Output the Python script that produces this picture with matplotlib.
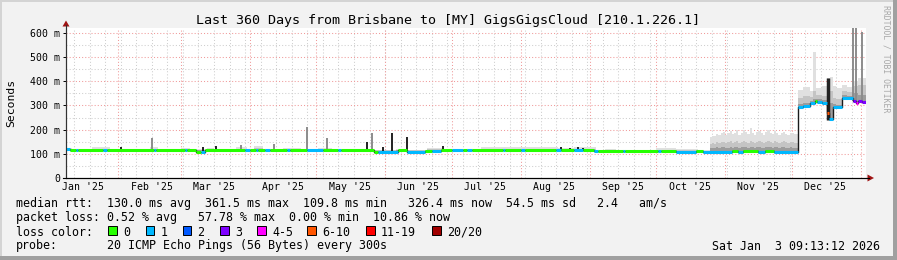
import matplotlib
matplotlib.use("Agg")
import matplotlib.pyplot as plt
import matplotlib.dates as mdates
from matplotlib.patches import Rectangle, Polygon
from matplotlib.lines import Line2D
import numpy as np
from datetime import datetime, timedelta

plt.rcParams['font.family'] = ['DejaVu Sans Mono']

END = datetime(2026, 1, 3, 9, 13, 12)
START = END - timedelta(days=360)

TITLE = "Last 360 Days from Brisbane to [MY] GigsGigsCloud [210.1.226.1]"

LOSS_LABELS = ["0", "1", "2", "3", "4-5", "6-10", "11-19", "20/20"]
LOSS_COLORS = ["#26ff00", "#00b8ff", "#0059ff", "#7e00ff",
               "#ff00ff", "#ff5500", "#ff0000", "#a10000"]

# median rtt (ms) as a step series: segment start, value, loss class
med_dates = ["2025-01-08", "2025-01-10", "2025-01-13", "2025-01-14", "2025-01-25",
             "2025-01-27", "2025-02-17", "2025-02-18", "2025-03-03", "2025-03-04",
             "2025-03-08", "2025-03-10", "2025-03-12", "2025-03-30", "2025-04-01",
             "2025-04-04", "2025-04-05", "2025-04-08", "2025-04-10", "2025-04-18",
             "2025-04-19", "2025-04-27", "2025-05-04", "2025-05-11", "2025-05-12",
             "2025-05-27", "2025-05-29", "2025-06-07", "2025-06-11", "2025-06-19",
             "2025-06-22", "2025-06-26", "2025-07-01", "2025-07-06", "2025-07-08",
             "2025-07-10", "2025-07-24", "2025-07-25", "2025-08-01", "2025-08-03",
             "2025-08-17", "2025-08-19", "2025-08-25", "2025-08-29", "2025-09-03",
             "2025-09-05", "2025-09-16", "2025-09-17", "2025-10-02", "2025-10-03",
             "2025-10-10", "2025-10-19", "2025-10-22", "2025-11-04", "2025-11-07",
             "2025-11-09", "2025-11-16", "2025-11-19", "2025-11-23", "2025-12-03 18:00",
             "2025-12-06", "2025-12-09 06:00", "2025-12-11 12:00", "2025-12-12 12:00",
             "2025-12-14 10:00", "2025-12-16 18:00", "2025-12-17 18:00", "2025-12-19 12:00",
             "2025-12-23 18:00", "2025-12-28 12:00", "2025-12-30", "2025-12-31",
             "2026-01-01 12:00"]
med_ms = [121, 115, 115, 115, 114,
          115, 115, 115, 115, 115,
          108, 108, 115, 115, 115,
          115, 115, 114, 115, 115,
          115, 115, 115, 115, 115,
          108, 109, 114, 109, 110,
          110, 115, 115, 115, 115,
          115, 115, 115, 114, 115,
          115, 115, 114, 115, 110,
          110, 110, 110, 110, 110,
          109, 110, 109, 110, 109,
          110, 109, 110, 108, 295,
          297, 310, 318, 316,
          310, 268, 245, 294,
          331, 318, 312, 320,
          316]
med_loss = [1, 0, 1, 0, 1,
             0, 1, 0, 1, 0,
             0, 1, 0, 1, 0,
             1, 0, 1, 0, 1,
             0, 1, 0, 1, 0,
             0, 1, 0, 1, 0,
             1, 0, 1, 0, 1,
             0, 1, 0, 1, 0,
             1, 0, 1, 0, 1,
             0, 1, 0, 1, 0,
             1, 0, 1, 0, 1,
             0, 1, 0, 1, 1,
             1, 1, 0, 1,
             1, 5, 1, 1,
             1, 3, 4, 3,
             3]

# smoke (ms): top of light, mid and dark bands, before the busy period
early_dates = ["2025-01-08", "2025-01-11", "2025-01-20", "2025-01-28", "2025-02-08",
               "2025-02-15", "2025-02-19", "2025-03-01", "2025-03-05", "2025-03-13",
               "2025-03-16", "2025-03-26", "2025-03-31", "2025-04-03", "2025-04-07",
               "2025-04-16", "2025-04-24", "2025-05-02", "2025-05-08", "2025-05-20",
               "2025-05-27", "2025-06-06", "2025-06-11", "2025-06-20", "2025-06-27",
               "2025-07-07", "2025-07-14", "2025-07-24", "2025-08-01", "2025-08-10",
               "2025-08-18", "2025-08-25", "2025-09-04", "2025-09-08", "2025-09-13",
               "2025-10-01", "2025-10-10", "2025-10-20"]
early_light = [126, 118, 127, 118, 121, 127, 118, 123, 118, 126,
               118, 127, 119, 134, 119, 122, 118, 124, 118, 121,
               117, 121, 117, 124, 118, 120, 127, 130, 127, 129,
               126, 128, 116, 121, 115, 122, 119, 116]
early_mid = [120, 116, 121, 116, 117, 120, 116, 118, 116, 119,
             116, 121, 116, 123, 116, 117, 116, 118, 116, 117,
             114, 117, 114, 118, 116, 117, 120, 121, 120, 121,
             120, 121, 113, 115, 112, 116, 114, 112]
early_dark = [117, 115, 116, 115, 115, 116, 115, 116, 115, 116,
              115, 116, 115, 117, 115, 115, 115, 116, 115, 115,
              110, 115, 110, 116, 115, 115, 116, 117, 116, 117,
              116, 117, 110, 112, 110, 112, 111, 110]

# daily smoke from 25 Oct to 2 Dec
nov_start = datetime(2025, 10, 25)
nov_light = [168, 175, 172, 182, 178, 186, 190, 176, 184, 195,
             180, 188, 198, 176, 185, 200, 190, 182, 205, 188,
             178, 192, 196, 184, 176, 190, 200, 186, 180, 194,
             188, 178, 185, 192, 182, 176, 188, 184, 180]
nov_mid = [140, 145, 142, 148, 146, 150, 148, 144, 147, 152,
           146, 149, 152, 143, 148, 153, 150, 146, 154, 149,
           145, 150, 152, 147, 144, 150, 153, 148, 146, 151,
           149, 145, 148, 151, 147, 144, 149, 147, 146]
nov_dark = [124, 126, 125, 127, 126, 128, 127, 125, 126, 129,
            126, 127, 129, 125, 127, 130, 128, 126, 130, 127,
            125, 128, 129, 126, 125, 128, 130, 127, 126, 128,
            127, 125, 127, 128, 126, 125, 127, 126, 126]

# smoke after the jump
dec_dates = ["2025-12-03 18:00", "2025-12-06", "2025-12-09 06:00", "2025-12-10 12:00",
             "2025-12-12", "2025-12-14 10:00", "2025-12-16 18:00", "2025-12-18",
             "2025-12-19 12:00", "2025-12-21", "2025-12-23 18:00", "2025-12-26",
             "2025-12-28 12:00", "2025-12-31"]
dec_light = [365, 376, 360, 521, 370, 380, 413, 418, 380, 372, 385, 378, 400, 413]
dec_mid = [330, 338, 335, 360, 345, 340, 380, 360, 330, 325, 360, 355, 380, 385]
dec_dark = [305, 310, 318, 325, 328, 322, 330, 310, 305, 302, 342, 340, 350, 345]

# isolated spikes (ms at top) and whether they are dark
spike_dates = ["2025-02-02", "2025-02-16", "2025-03-11", "2025-03-17", "2025-03-28",
               "2025-04-12", "2025-04-27", "2025-05-06", "2025-05-24", "2025-05-26",
               "2025-05-31", "2025-06-04", "2025-06-11", "2025-06-27", "2025-08-19",
               "2025-08-23", "2025-08-27", "2025-08-29", "2025-12-28 16:00",
               "2025-12-29 20:00", "2026-01-01 12:00"]
spike_top = [128, 165, 128, 131, 136,
             140, 211, 165, 150, 186,
             130, 186, 170, 132, 128,
             126, 130, 126, 620,
             620, 605]
spike_dark = [1, 0, 1, 1, 0,
              0, 0, 0, 1, 0,
              1, 1, 1, 1, 1,
              1, 1, 1, 0,
              0, 0]

rtt_stats = [130.0, 361.5, 109.8, 326.4, 54.5, 2.4]
loss_stats = [0.52, 57.78, 0.00, 10.86]
PROBE = "20 ICMP Echo Pings (56 Bytes) every 300s"
STAMP = "Sat Jan  3 09:13:12 2026"

W, H = 897, 260


def fx(px):
    return px / W


def fy(py):
    return 1 - py / H


def d(s):
    return datetime.fromisoformat(s)


fig = plt.figure(figsize=(W / 100, H / 100), dpi=100, facecolor="#f2f2f2")

# 3d-ish frame
fig.add_artist(Rectangle((0, fy(2)), 1, fy(0) - fy(2), transform=fig.transFigure,
                         color="#d4d4d4", lw=0))
fig.add_artist(Rectangle((0, 0), fx(2), 1, transform=fig.transFigure,
                         color="#d4d4d4", lw=0))
fig.add_artist(Rectangle((fx(893), 0), fx(4), 1, transform=fig.transFigure,
                         color="#a0a0a0", lw=0))
fig.add_artist(Rectangle((0, 0), 1, fy(256), transform=fig.transFigure,
                         color="#a0a0a0", lw=0))

ax = fig.add_axes([fx(66), fy(178), fx(866) - fx(66), fy(28) - fy(178)])
ax.set_facecolor("white")
ax.set_xlim(START, END)
ax.set_ylim(0, 620)

# grid
dots = (0, (1, 2))
sunday = datetime(2025, 1, 12)
while sunday < END:
    ax.axvline(sunday, color="#cfcfcf", lw=0.75, ls=dots, zorder=0)
    sunday += timedelta(days=7)
for v in range(50, 620, 100):
    ax.axhline(v, color="#cfcfcf", lw=0.75, ls=dots, zorder=0)
month_starts = [datetime(2025, m, 1) for m in range(2, 13)] + [datetime(2026, 1, 1)]
for t in month_starts:
    ax.axvline(t, color="#f09a9a", lw=0.75, ls=dots, zorder=0.5)
for v in range(100, 620, 100):
    ax.axhline(v, color="#f09a9a", lw=0.75, ls=dots, zorder=0.5)

# median lookup
med_t = mdates.date2num([d(s) for s in med_dates])


def med_at(t):
    i = np.searchsorted(med_t, mdates.date2num(t), side="right") - 1
    return med_ms[max(i, 0)]


# smoke bands
nov_dates = [nov_start + timedelta(days=i) for i in range(len(nov_light))]
smoke_t = [d(s) for s in early_dates] + nov_dates + [d(s) for s in dec_dates]
smoke_light = early_light + nov_light + dec_light
smoke_mid = early_mid + nov_mid + dec_mid
smoke_dark = early_dark + nov_dark + dec_dark

sx = smoke_t + [END]
low = [med_at(t) - 3 for t in smoke_t]
low = low + [low[-1]]
for band, col in [(smoke_light, "#e0e0e0"), (smoke_mid, "#c4c4c4"), (smoke_dark, "#9c9c9c")]:
    ax.fill_between(sx, low, band + [band[-1]], step="post",
                    color=col, lw=0, zorder=1)

# spikes
for s, top, dark in zip(spike_dates, spike_top, spike_dark):
    t = d(s)
    ax.vlines(t, med_at(t), top, color="#222222" if dark else "#8c8c8c",
              lw=1.4, zorder=2)
ax.vlines(d("2025-12-17 06:00"), 240, 413, color="#222222", lw=2.5, zorder=2)

# median line
mx = [d(s) for s in med_dates] + [END]
ax.step(mx, med_ms + [med_ms[-1]], where="post", color="#1a1a1a",
        lw=1.0, zorder=3)
for i in range(len(med_ms)):
    ax.plot([mx[i], mx[i + 1]], [med_ms[i], med_ms[i]], color=LOSS_COLORS[med_loss[i]],
            lw=2.2, solid_capstyle="butt", zorder=4)

# axes
for side in ["top", "right"]:
    ax.spines[side].set_visible(False)
ax.spines["left"].set_color("#333333")
ax.spines["bottom"].set_color("#000000")
ax.spines["left"].set_linewidth(0.8)
ax.spines["bottom"].set_linewidth(0.8)

yt = list(range(0, 601, 100))
ax.set_yticks(yt)
ax.set_yticklabels(["0"] + [f"{v} m" for v in yt[1:]])
ax.tick_params(axis="y", length=2.2, width=0.7, pad=2.2, labelsize=7.1)

mids = [datetime(2025, m, 1) + timedelta(days=15) for m in range(1, 13)]
ax.set_xticks(mids)
ax.set_xticklabels([t.strftime("%b '%y") for t in mids])
ax.tick_params(axis="x", length=0, pad=3, labelsize=7.1)

# axis extensions and arrows
fig.add_artist(Line2D([fx(66), fx(66)], [fy(178), fy(25)], transform=fig.transFigure,
                      color="#333333", lw=0.8))
fig.add_artist(Line2D([fx(63), fx(869)], [fy(178), fy(178)], transform=fig.transFigure,
                      color="#000000", lw=0.8))
fig.add_artist(Polygon([(fx(62.5), fy(26.5)), (fx(69.5), fy(26.5)), (fx(66), fy(20.5))],
                       closed=True, transform=fig.transFigure, color="#a01414", lw=0))
fig.add_artist(Polygon([(fx(867.5), fy(174.5)), (fx(867.5), fy(181.5)), (fx(874), fy(178))],
                       closed=True, transform=fig.transFigure, color="#a01414", lw=0))

# texts
fig.text(fx(448), fy(24), TITLE, ha="center", va="baseline", fontsize=9.6)
fig.text(fx(11), fy(103), "Seconds", ha="center", va="center", rotation=90, fontsize=8.2)
fig.text(fx(886), fy(5), "RRDTOOL / TOBI OETIKER", ha="center", va="top", rotation=270,
         fontsize=5.9, color="#a8a8a8")

line1 = ("median rtt:  %.1f ms avg  %.1f ms max  %.1f ms min   %.1f ms now  "
         "%.1f ms sd   %.1f   am/s" % tuple(rtt_stats))
line2 = "packet loss: %.2f %% avg   %.2f %% max  %.2f %% min  %.2f %% now" % tuple(loss_stats)
fs = 8.35
fig.text(fx(16), fy(207.5), line1, ha="left", va="baseline", fontsize=fs)
fig.text(fx(16), fy(221.5), line2, ha="left", va="baseline", fontsize=fs)
fig.text(fx(16), fy(235.5), "loss color:", ha="left", va="baseline", fontsize=fs)
fig.text(fx(16), fy(249.5), "probe:", ha="left", va="baseline", fontsize=fs)
fig.text(fx(107), fy(249.5), PROBE, ha="left", va="baseline", fontsize=fs)
fig.text(fx(880), fy(249.5), STAMP, ha="right", va="baseline", fontsize=fs)

box_x = [108, 145.5, 182.5, 220, 257, 307, 366, 432]
for bx, lab, col in zip(box_x, LOSS_LABELS, LOSS_COLORS):
    fig.add_artist(Rectangle((fx(bx), fy(234.5)), fx(8.5), fy(226) - fy(234.5),
                             transform=fig.transFigure, facecolor=col,
                             edgecolor="black", lw=0.7))
    fig.text(fx(bx + 15), fy(235.5), lab, ha="left", va="baseline", fontsize=fs)

fig.savefig("out.png", dpi=100, facecolor=fig.get_facecolor())
